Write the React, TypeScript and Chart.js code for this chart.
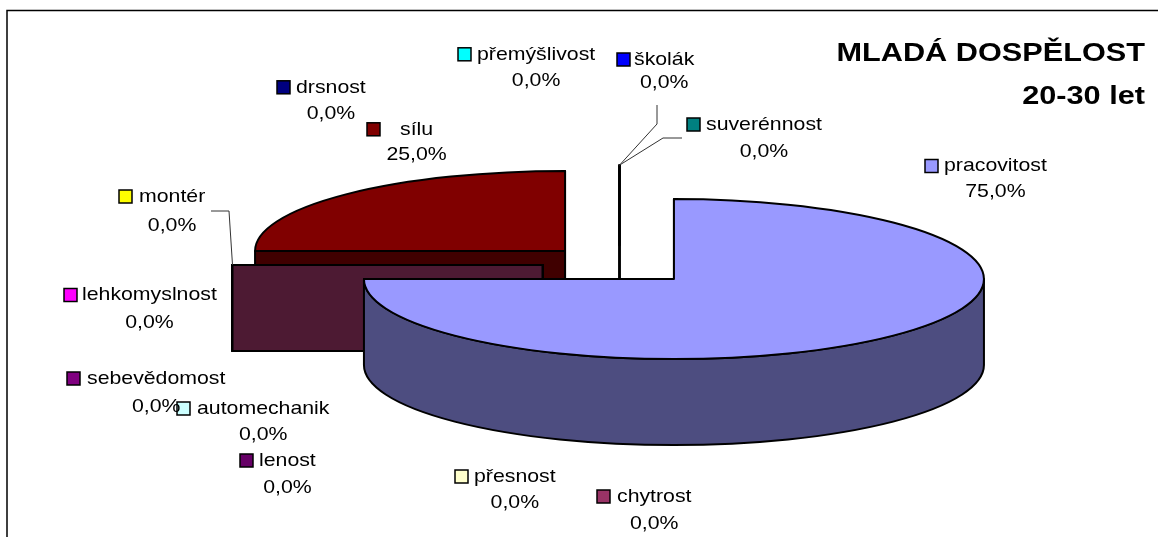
import { useEffect, useRef } from 'react';
import { Chart, registerables } from 'chart.js';

Chart.register(...registerables);

// ---- data ----
const categories = [
  'pracovitost', 'chytrost', 'přesnost', 'automechanik', 'lenost', 'drsnost',
  'lehkomyslnost', 'montér', 'přemýšlivost', 'sebevědomost', 'sílu', 'suverénnost', 'školák',
];
const values = [75, 0, 0, 0, 0, 0, 0, 0, 0, 0, 25, 0, 0];
const colors = [
  '#9999FF', '#993366', '#FFFFCC', '#CCFFFF', '#660066', '#000080',
  '#FF00FF', '#FFFF00', '#00FFFF', '#800080', '#800000', '#008080', '#0000FF',
];
const titleLines = ['MLADÁ DOSPĚLOST', '20-30 let'];

// ---- layout (label placement, not data) ----
const labelKeyX = [925, 597, 455, 177, 240, 277, 64, 119, 458, 67, 367, 687, 617];
const labelNameX = [944, 617, 474, 197, 259, 296, 82, 139, 477, 87, 400, 706, 634];
const labelNameY = [166, 496.5, 476.5, 408.5, 460.5, 87.3, 295, 196.5, 54.3, 378.5, 129.3, 124.5, 59.5];
const labelPctY = [192, 524, 503, 435, 488, 114, 323, 226, 81, 407, 155, 152, 83];
const leaderIdx = [7, 12, 11];
const leaderPts = [
  [[211, 211], [229, 211]],
  [[657, 105], [657, 124]],
  [[682, 138], [663, 138]],
];

const K = 0.258; // vertical squash of the pie
const DEPTH = 86;
const EXPLODE = 77;
const FONT = '"Liberation Sans", Arial, Helvetica, sans-serif';
const LABEL_SIZE = 19;
const LABEL_SCALE = 1.12;
const TITLE_SIZE = 26;
const TITLE_SCALE = 1.18;

function shade(hex: string): string {
  const h = hex.replace('#', '');
  const r = Math.round(parseInt(h.slice(0, 2), 16) * 0.5);
  const g = Math.round(parseInt(h.slice(2, 4), 16) * 0.5);
  const b = Math.round(parseInt(h.slice(4, 6), 16) * 0.5);
  return `rgb(${r},${g},${b})`;
}

function drawText(ctx: CanvasRenderingContext2D, text: string, x: number, y: number, align: CanvasTextAlign, sx: number) {
  ctx.save();
  ctx.translate(x, y);
  ctx.scale(sx, 1);
  ctx.textAlign = align;
  ctx.fillText(text, 0, 0);
  ctx.restore();
}

function sliceGeom(chart: any) {
  const meta = chart.getDatasetMeta(0);
  return meta.data.map((arc: any, i: number) => {
    const p = arc.getProps(['x', 'y', 'startAngle', 'endAngle', 'outerRadius'], true);
    const off = arc.options.offset || 0;
    const mid = (p.startAngle + p.endAngle) / 2;
    return {
      i,
      cx: p.x + off * Math.cos(mid),
      cy: p.y + off * Math.sin(mid) * K,
      r: p.outerRadius,
      a0: p.startAngle,
      a1: p.endAngle,
      color: arc.options.backgroundColor as string,
    };
  });
}

const pie3d = {
  id: 'pie3d',
  beforeDraw(chart: any) {
    const ctx = chart.ctx as CanvasRenderingContext2D;
    ctx.save();
    ctx.fillStyle = '#ffffff';
    ctx.fillRect(0, 0, chart.width, chart.height);
    ctx.strokeStyle = '#000000';
    ctx.lineWidth = 1.5;
    ctx.strokeRect(7, 10.5, 1400, 800);
    ctx.restore();
  },
  beforeDatasetsDraw(chart: any) {
    const ctx = chart.ctx as CanvasRenderingContext2D;
    const slices = sliceGeom(chart);
    slices.sort((a: any, b: any) => (a.cy - b.cy) || (b.i - a.i));
    ctx.save();
    ctx.lineJoin = 'round';
    ctx.strokeStyle = '#000000';
    ctx.lineWidth = 2;
    for (const s of slices) {
      const side = shade(s.color);
      const rim = (a: number) => [s.cx + s.r * Math.cos(a), s.cy + s.r * K * Math.sin(a)];
      const faces = [
        { a: s.a0, ny: Math.sin(s.a0 - Math.PI / 2) },
        { a: s.a1, ny: Math.sin(s.a1 + Math.PI / 2) },
      ];
      for (const f of faces) {
        if (f.ny < -1e-6) continue;
        const [x1, y1] = rim(f.a);
        ctx.beginPath();
        ctx.moveTo(s.cx, s.cy);
        ctx.lineTo(x1, y1);
        ctx.lineTo(x1, y1 + DEPTH);
        ctx.lineTo(s.cx, s.cy + DEPTH);
        ctx.closePath();
        ctx.fillStyle = side;
        ctx.fill();
        ctx.stroke();
      }
      for (const base of [-2 * Math.PI, 0, 2 * Math.PI]) {
        const lo = Math.max(s.a0, base);
        const hi = Math.min(s.a1, base + Math.PI);
        if (hi - lo > 1e-6) {
          ctx.beginPath();
          ctx.ellipse(s.cx, s.cy, s.r, s.r * K, 0, lo, hi);
          ctx.ellipse(s.cx, s.cy + DEPTH, s.r, s.r * K, 0, hi, lo, true);
          ctx.closePath();
          ctx.fillStyle = side;
          ctx.fill();
          ctx.stroke();
        }
      }
      ctx.beginPath();
      ctx.moveTo(s.cx, s.cy);
      ctx.ellipse(s.cx, s.cy, s.r, s.r * K, 0, s.a0, s.a1);
      ctx.closePath();
      ctx.fillStyle = s.color;
      ctx.fill();
      ctx.stroke();
    }
    ctx.restore();
    return false;
  },
  afterDraw(chart: any) {
    const ctx = chart.ctx as CanvasRenderingContext2D;
    const slices = sliceGeom(chart);
    const total = values.reduce((a, b) => a + b, 0);
    ctx.save();
    // leader lines
    ctx.strokeStyle = '#333333';
    ctx.lineWidth = 1;
    leaderIdx.forEach((idx, j) => {
      const s = slices[idx];
      const ex = s.cx + s.r * Math.cos(s.a0);
      const ey = s.cy + s.r * K * Math.sin(s.a0);
      const pts = leaderPts[j];
      ctx.beginPath();
      ctx.moveTo(pts[0][0], pts[0][1]);
      ctx.lineTo(pts[1][0], pts[1][1]);
      ctx.lineTo(ex, ey);
      ctx.stroke();
    });
    // labels
    ctx.font = `${LABEL_SIZE}px ${FONT}`;
    ctx.textBaseline = 'middle';
    categories.forEach((name, i) => {
      const ky = labelNameY[i];
      ctx.fillStyle = colors[i];
      ctx.fillRect(labelKeyX[i], ky - 6.5, 13, 13);
      ctx.strokeStyle = '#000000';
      ctx.lineWidth = 1.5;
      ctx.strokeRect(labelKeyX[i], ky - 6.5, 13, 13);
      ctx.fillStyle = '#000000';
      drawText(ctx, name, labelNameX[i], ky, 'left', LABEL_SCALE);
      const w = ctx.measureText(name).width * LABEL_SCALE;
      const pct = ((values[i] / total) * 100).toFixed(1).replace('.', ',') + '%';
      drawText(ctx, pct, labelNameX[i] + w / 2, labelPctY[i], 'center', LABEL_SCALE);
    });
    // title
    ctx.font = `bold ${TITLE_SIZE}px ${FONT}`;
    ctx.textBaseline = 'alphabetic';
    ctx.fillStyle = '#000000';
    drawText(ctx, titleLines[0], 1145, 61, 'right', TITLE_SCALE);
    drawText(ctx, titleLines[1], 1145, 104, 'right', TITLE_SCALE);
    ctx.restore();
  },
};

export default function App() {
  const ref = useRef<HTMLCanvasElement | null>(null);
  useEffect(() => {
    if (!ref.current) return;
    const chart = new Chart(ref.current, {
      type: 'pie',
      data: {
        labels: categories,
        datasets: [
          {
            data: values,
            backgroundColor: colors,
            offset: EXPLODE,
            borderWidth: 0,
          },
        ],
      },
      options: {
        responsive: false,
        animation: false,
        events: [],
        radius: 310,
        layout: { padding: { left: 81, right: 0, top: 0, bottom: 7 } },
        plugins: {
          legend: { display: false },
          tooltip: { enabled: false },
          title: { display: false },
        },
      } as any,
      plugins: [pie3d as any],
    });
    return () => chart.destroy();
  }, []);
  return (
    <div style={{ position: 'fixed', left: 0, top: 0, width: 1158, height: 537, background: '#fff' }}>
      <canvas ref={ref} width={1158} height={537} style={{ width: 1158, height: 537, display: 'block' }} />
    </div>
  );
}
